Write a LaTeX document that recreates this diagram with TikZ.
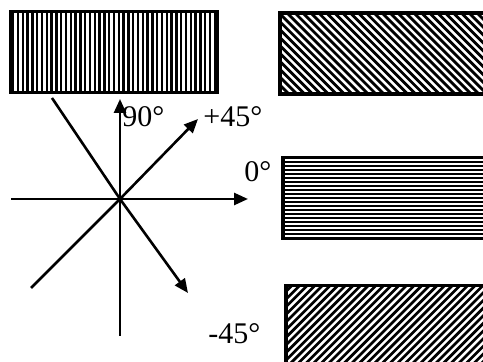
\documentclass[tikz,border=0pt]{standalone}
\usepackage{fontspec}
\setmainfont{Liberation Serif}
\usetikzlibrary{arrows.meta, positioning}

\begin{document}
\begin{tikzpicture}[
    x=0.5pt, y=-0.5pt, % one unit per pixel of the sketch
    >={Triangle[length=7pt, width=6pt]}, % Big filled arrow tips
    ray/.style={line width=1.3pt}, % Style for the star lines
    angletext/.style={font=\fontsize{15}{18}\selectfont, inner sep=0pt, anchor=base west}, % Style for angle labels
    hatchbox/.style 2 args={draw, line width=1.6pt, minimum width=103pt, minimum height=40.5pt, inner sep=0pt,
        path picture={
            \foreach \k in {-50,...,50}
                \draw[line width=0.5*#2] (path picture bounding box.center)
                    ++(#1:\k*#2) ++(#1+90:80pt) -- ++(#1-90:160pt);
        }} % Style for the striped boxes: angle, spacing
]
    \useasboundingbox (0,0) rectangle (483,362);

    % --- Striped boxes ---
    \node[hatchbox={0}{2.4pt}]   (box90)  at (114,52)    {};
    \node[hatchbox={45}{2.8pt}]  (boxp45) at (383,53.5)  {};
    \node[hatchbox={90}{2pt}]    (box0)   at (386,198)   {};
    \node[hatchbox={-45}{2.7pt}] (boxm45) at (389,326)   {};

    % --- Star of directions ---
    \coordinate (O) at (120,199);
    \coordinate (W) at (11,199);
    \coordinate (E) at (248,199);
    \coordinate (N) at (120,99);
    \coordinate (S) at (120,336);
    \coordinate (NE) at (198,119);
    \coordinate (SW) at (31,288);
    \coordinate (NW) at (52,98);
    \coordinate (SE) at (188,293);

    \draw[ray] (W) -- (O);
    \draw[ray, ->] (O) -- (E);
    \draw[ray, ->] (O) -- (N);
    \draw[ray] (O) -- (S);
    \draw[ray, ->] (O) -- (NE);
    \draw[ray] (O) -- (SW);
    \draw[ray] (NW) -- (O);
    \draw[ray, ->] (O) -- (SE);

    % --- Angle labels ---
    \node[angletext] (t90)  at (122,127) {90°};
    \node[angletext] (tp45) at (203,127) {+45°};
    \node[angletext] (t0)   at (244,182) {0°};
    \node[angletext] (tm45) at (208,344) {-45°};

\end{tikzpicture}
\end{document}
